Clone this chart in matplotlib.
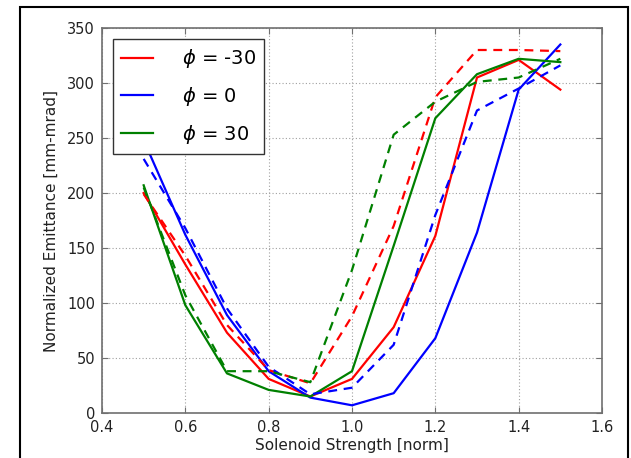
import matplotlib
matplotlib.use("Agg")
import matplotlib.pyplot as plt
from matplotlib.patches import Rectangle

strength = [0.5, 0.6, 0.7, 0.8, 0.9, 1.0, 1.1, 1.2, 1.3, 1.4, 1.5]
red_solid = [200, 135, 73, 31, 15, 31, 78, 161, 305, 321, 294]
red_dashed = [199, 143, 80, 39, 27, 88, 170, 287, 330, 330, 329]
blue_solid = [248, 162, 89, 38, 14, 7, 18, 68, 164, 294, 335]
blue_dashed = [231, 168, 95, 42, 17, 23, 62, 180, 275, 295, 316]
green_solid = [207, 98, 36, 21, 15, 38, 152, 268, 308, 322, 319]
green_dashed = [205, 107, 38, 38, 28, 130, 253, 283, 301, 305, 322]

labels = [r"$\phi$ = -30", r"$\phi$ = 0", r"$\phi$ = 30"]
xticks = [0.4, 0.6, 0.8, 1.0, 1.2, 1.4, 1.6]
yticks = [0, 50, 100, 150, 200, 250, 300, 350]

red = "#ff0000"
blue = "#0000ff"
green = "#008000"

fig = plt.figure(figsize=(6.31, 4.58), dpi=100)
ax = fig.add_axes([102/631, 1-413/458, 500/631, 385/458])

lw = 1.6
ax.plot(strength, red_solid, color=red, lw=lw, label=labels[0])
ax.plot(strength, blue_solid, color=blue, lw=lw, label=labels[1])
ax.plot(strength, green_solid, color=green, lw=lw, label=labels[2])
ax.plot(strength, red_dashed, color=red, lw=lw, ls=(0, (4, 3)))
ax.plot(strength, blue_dashed, color=blue, lw=lw, ls=(0, (4, 3)))
ax.plot(strength, green_dashed, color=green, lw=lw, ls=(0, (4, 3)))

ax.set_xlim(0.4, 1.6)
ax.set_ylim(0, 350)
ax.set_xticks(xticks)
ax.set_yticks(yticks)
ax.set_xticklabels([f"{v:.1f}" for v in xticks])
ax.grid(True, color="#a0a0a0", ls=(0, (1, 2)), lw=0.8)
ax.tick_params(direction="in", top=True, right=True, length=4, width=0.8,
               color="#707070", labelsize=10.5, labelcolor="#222222", pad=5)
for s in ax.spines.values():
    s.set_color("#707070")
    s.set_linewidth(1.2)

ax.set_xlabel("Solenoid Strength [norm]", fontsize=11, color="#222222", labelpad=2)
ax.set_ylabel("Normalized Emittance [mm-mrad]", fontsize=11, color="#222222", labelpad=6)

leg = ax.legend(loc="upper left", fontsize=14, fancybox=False, framealpha=1,
                edgecolor="#333333", handlelength=1.6, handletextpad=1.5,
                labelspacing=0.75, borderpad=0.45, borderaxespad=0.55)
leg.get_frame().set_linewidth(1.0)

fig.patches.append(Rectangle((20/631, -0.1), 608/631, 1.1 - 7/458, transform=fig.transFigure,
                             fill=False, edgecolor="black", lw=1.5))

fig.savefig("out.png", dpi=100)
